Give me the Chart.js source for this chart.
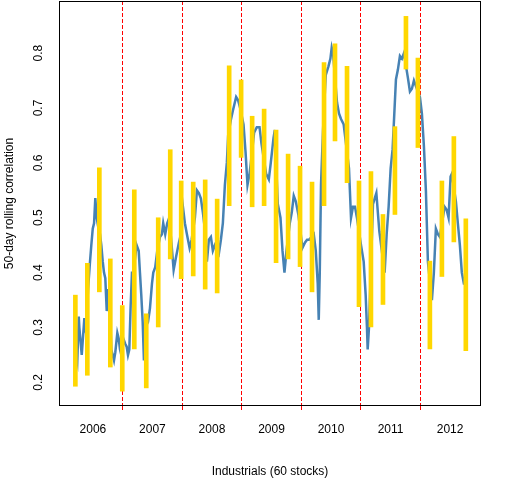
<!DOCTYPE html>
<html>
<head>
<meta charset="utf-8">
<script src="https://cdn.jsdelivr.net/npm/chart.js@4"></script>
<style>
  html, body { margin: 0; padding: 0; background: #fff; }
  #wrap { width: 512px; height: 480px; }
</style>
</head>
<body>
<div id="wrap"><canvas id="corr-chart" width="512" height="480"></canvas></div>
<script>
// 50-day rolling correlation (decimal years)
const corrDates = [
  2006.205, 2006.238, 2006.262, 2006.272, 2006.312, 2006.356, 2006.384, 2006.418, 2006.451, 2006.473,
  2006.497, 2006.519, 2006.540, 2006.564, 2006.586, 2006.619, 2006.641, 2006.665, 2006.686, 2006.708,
  2006.732, 2006.753, 2006.787, 2006.809, 2006.832, 2006.854, 2006.876, 2006.910, 2006.933, 2006.955,
  2006.977, 2007.010, 2007.044, 2007.067, 2007.089, 2007.111, 2007.134, 2007.156, 2007.178, 2007.212,
  2007.235, 2007.269, 2007.290, 2007.312, 2007.336, 2007.357, 2007.379, 2007.425, 2007.458, 2007.492,
  2007.514, 2007.547, 2007.581, 2007.626, 2007.659, 2007.681, 2007.715, 2007.748, 2007.782, 2007.822,
  2007.856, 2007.899, 2007.945, 2007.967, 2008.012, 2008.045, 2008.079, 2008.124, 2008.158, 2008.213,
  2008.247, 2008.280, 2008.314, 2008.347, 2008.369, 2008.415, 2008.448, 2008.482, 2008.515, 2008.549,
  2008.616, 2008.650, 2008.683, 2008.717, 2008.750, 2008.772, 2008.817, 2008.851, 2008.884, 2008.906,
  2008.940, 2008.973, 2009.030, 2009.064, 2009.097, 2009.131, 2009.153, 2009.208, 2009.253, 2009.299,
  2009.332, 2009.410, 2009.455, 2009.488, 2009.534, 2009.556, 2009.606, 2009.651, 2009.685, 2009.718,
  2009.752, 2009.807, 2009.841, 2009.874, 2009.908, 2009.953, 2010.020, 2010.064, 2010.098, 2010.131,
  2010.210, 2010.244, 2010.277, 2010.294, 2010.311, 2010.332, 2010.366, 2010.411, 2010.457, 2010.490,
  2010.512, 2010.534, 2010.601, 2010.634, 2010.668, 2010.713, 2010.802, 2010.836, 2010.869, 2010.903,
  2010.936, 2011.004, 2011.049, 2011.082, 2011.104, 2011.116, 2011.138, 2011.205, 2011.262, 2011.312,
  2011.401, 2011.435, 2011.468, 2011.502, 2011.535, 2011.591, 2011.624, 2011.658, 2011.692, 2011.725,
  2011.792, 2011.826, 2011.859, 2011.893, 2011.926, 2011.994, 2012.027, 2012.061, 2012.094, 2012.128,
  2012.195, 2012.228, 2012.262, 2012.296, 2012.329, 2012.408, 2012.441, 2012.475, 2012.509, 2012.530,
  2012.598, 2012.631, 2012.665, 2012.698, 2012.732, 2012.755
];
const corrValues = [
  0.26, 0.24, 0.32, 0.30, 0.25, 0.317, 0.29, 0.37, 0.42, 0.45,
  0.48, 0.49, 0.536, 0.50, 0.485, 0.47, 0.45, 0.42, 0.40, 0.39,
  0.33, 0.37, 0.33, 0.26, 0.25, 0.24, 0.255, 0.29, 0.28, 0.26,
  0.25, 0.28, 0.27, 0.265, 0.25, 0.26, 0.34, 0.40, 0.40, 0.43,
  0.45, 0.44, 0.40, 0.36, 0.31, 0.24, 0.30, 0.31, 0.335, 0.38,
  0.40, 0.41, 0.44, 0.465, 0.47, 0.49, 0.47, 0.49, 0.50, 0.45,
  0.405, 0.43, 0.455, 0.465, 0.52, 0.49, 0.47, 0.445, 0.46, 0.50,
  0.55, 0.545, 0.535, 0.51, 0.49, 0.42, 0.46, 0.465, 0.44, 0.45,
  0.435, 0.46, 0.49, 0.56, 0.60, 0.65, 0.678, 0.695, 0.71, 0.72,
  0.714, 0.70, 0.67, 0.62, 0.56, 0.58, 0.60, 0.655, 0.665, 0.665,
  0.635, 0.58, 0.57, 0.60, 0.645, 0.66, 0.525, 0.50, 0.44, 0.40,
  0.44, 0.49, 0.51, 0.54, 0.53, 0.505, 0.445, 0.455, 0.46, 0.46,
  0.47, 0.44, 0.38, 0.314, 0.40, 0.56, 0.66, 0.76, 0.776, 0.79,
  0.81, 0.80, 0.71, 0.69, 0.68, 0.67, 0.59, 0.50, 0.52, 0.52,
  0.50, 0.45, 0.42, 0.36, 0.30, 0.26, 0.30, 0.525, 0.545, 0.475,
  0.40, 0.47, 0.52, 0.59, 0.625, 0.752, 0.77, 0.795, 0.79, 0.80,
  0.755, 0.73, 0.735, 0.75, 0.74, 0.72, 0.69, 0.63, 0.55, 0.42,
  0.35, 0.40, 0.48, 0.47, 0.465, 0.52, 0.515, 0.50, 0.575, 0.58,
  0.53, 0.49, 0.45, 0.40, 0.38, 0.38
];

// range of correlations in each 50-day block
const blockDates = [
  2006.205, 2006.406, 2006.608, 2006.792, 2006.993, 2007.195, 2007.396, 2007.597, 2007.799, 2007.983,
  2008.185, 2008.386, 2008.587, 2008.789, 2008.990, 2009.175, 2009.376, 2009.577, 2009.779, 2009.980,
  2010.181, 2010.383, 2010.567, 2010.769, 2010.970, 2011.171, 2011.373, 2011.574, 2011.759, 2011.960,
  2012.161, 2012.363, 2012.564, 2012.765
];
const blockLow = [
  0.193, 0.213, 0.365, 0.228, 0.184, 0.261, 0.190, 0.301, 0.425, 0.389,
  0.394, 0.370, 0.363, 0.522, 0.610, 0.520, 0.522, 0.418, 0.425, 0.411,
  0.365, 0.522, 0.640, 0.564, 0.338, 0.301, 0.342, 0.506, 0.771, 0.628,
  0.261, 0.393, 0.456, 0.258
];
const blockHigh = [
  0.359, 0.417, 0.591, 0.425, 0.340, 0.551, 0.325, 0.500, 0.624, 0.567,
  0.565, 0.569, 0.534, 0.777, 0.751, 0.685, 0.698, 0.660, 0.616, 0.594,
  0.565, 0.783, 0.817, 0.776, 0.567, 0.584, 0.506, 0.666, 0.867, 0.791,
  0.421, 0.567, 0.648, 0.498
];

const yearLabels = ['2006', '2007', '2008', '2009', '2010', '2011', '2012'];
const yearBreaks = [2007, 2008, 2009, 2010, 2011, 2012];
const yTicks = [0.2, 0.3, 0.4, 0.5, 0.6, 0.7, 0.8];

const lineData = corrDates.map((d, i) => ({x: d, y: corrValues[i]}));
const barData = blockDates.map((d, i) => ({x: d, y: [blockLow[i], blockHigh[i]]}));

// x ticks: year breaks (red dashed) and mid-year labels
const xTickValues = [];
for (let i = 0; i < yearLabels.length; i++) {
  xTickValues.push(+yearLabels[i] + 0.5);
}
for (let b of yearBreaks) xTickValues.push(b);
xTickValues.sort((a, b) => a - b);

const boxPlugin = {
  id: 'box',
  afterDatasetsDraw(chart) {
    const {ctx, chartArea: a} = chart;
    ctx.save();
    ctx.strokeStyle = '#000';
    ctx.lineWidth = 1;
    ctx.strokeRect(Math.round(a.left) + 0.5, Math.round(a.top) + 0.5,
      Math.round(a.right - a.left) - 1, Math.round(a.bottom - a.top) - 1);
    ctx.restore();
  }
};

const isBreak = v => yearBreaks.includes(Math.round(v * 10) / 10);
const font = {family: '"Liberation Sans", Arial, sans-serif', size: 12};

new Chart(document.getElementById('corr-chart'), {
  type: 'line',
  data: {
    datasets: [
      {
        type: 'bar',
        data: barData,
        backgroundColor: '#FFD700',
        borderWidth: 0,
        barThickness: 4,
        order: 0
      },
      {
        type: 'line',
        data: lineData,
        borderColor: '#4682B4',
        borderWidth: 2.5,
        pointRadius: 0,
        tension: 0,
        order: 1
      }
    ]
  },
  options: {
    responsive: false,
    animation: false,
    devicePixelRatio: 1,
    layout: {padding: {top: 1, right: 31, left: 0, bottom: 0}},
    plugins: {legend: {display: false}, tooltip: {enabled: false}},
    scales: {
      x: {
        type: 'linear',
        offset: false,
        min: 2005.93,
        max: 2013.02,
        afterBuildTicks: s => { s.ticks = xTickValues.map(v => ({value: v})); },
        afterFit: s => { s.height = 74; s.paddingLeft = 0; s.paddingRight = 0; },
        ticks: {
          autoSkip: false,
          maxRotation: 0,
          padding: 11,
          color: '#000',
          font: font,
          callback: v => (Math.abs(v % 1 - 0.5) < 0.01 ? String(Math.floor(v)) : '')
        },
        grid: {
          offset: false,
          drawOnChartArea: true,
          drawTicks: true,
          tickLength: 5,
          lineWidth: 1,
          color: c => (c.tick && isBreak(c.tick.value) ? '#FF0000' : 'rgba(0,0,0,0)'),
          tickColor: c => (c.tick && isBreak(c.tick.value) ? '#FF0000' : 'rgba(0,0,0,0)'),
          tickBorderDash: [4, 2]
        },
        border: {display: false, dash: [4, 2]},
        title: {
          display: true,
          text: 'Industrials (60 stocks)',
          color: '#000',
          font: font,
          padding: {top: 0, bottom: 1}
        }
      },
      y: {
        min: 0.157,
        max: 0.895,
        afterBuildTicks: s => { s.ticks = yTicks.map(v => ({value: v})); },
        afterFit: s => { s.width = 59; s.paddingTop = 0; s.paddingBottom = 0; },
        ticks: {
          minRotation: 90,
          maxRotation: 90,
          crossAlign: 'center',
          padding: 12,
          color: '#000',
          font: font,
          callback: v => v.toFixed(1)
        },
        grid: {display: false, drawTicks: false},
        border: {display: false},
        title: {
          display: true,
          text: '50-day rolling correlation',
          color: '#000',
          font: font,
          padding: {top: 2, bottom: 0}
        }
      }
    }
  },
  plugins: [boxPlugin]
});
</script>
</body>
</html>
